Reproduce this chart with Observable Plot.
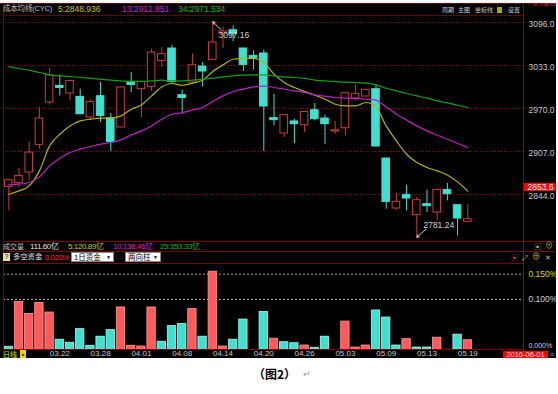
<!DOCTYPE html>
<html><head><meta charset="utf-8">
<script src="https://cdn.jsdelivr.net/npm/d3@7"></script>
<script src="https://cdn.jsdelivr.net/npm/@observablehq/plot@0.6"></script>
<style>
html,body{margin:0;padding:0;background:#fff;}
#wrap{position:relative;width:558px;height:394px;overflow:hidden;background:#fff;font-family:"Liberation Sans","Noto Sans CJK SC",sans-serif;}
#bg{position:absolute;left:0;top:0;width:556px;height:358px;background:#000;}
.abs{position:absolute;white-space:nowrap;line-height:1;font-size:8px;font-family:"Liberation Sans","Noto Sans CJK SC",sans-serif;}
.ln{position:absolute;background:#800000;}
.dd{position:absolute;background:#fff;color:#000;font-size:7.5px;line-height:9px;height:10px;font-family:"Liberation Sans","Noto Sans CJK SC",sans-serif;box-sizing:border-box;padding-left:2px;border:1px solid #888;white-space:nowrap;}
.dd span{position:absolute;right:2px;top:0;font-size:5px;}
</style></head><body><div id="wrap"><div id="bg"></div></div>
<script>
// ---- data ----
const dates = ["03.15","03.16","03.17","03.18","03.21","03.22","03.23","03.24","03.25","03.28","03.29","03.30","03.31","04.01","04.05","04.06","04.07","04.08","04.11","04.12","04.13","04.14","04.15","04.18","04.19","04.20","04.21","04.22","04.25","04.26","04.27","04.28","04.29","05.03","05.04","05.05","05.06","05.09","05.10","05.11","05.12","05.13","05.16","05.17","05.18","05.19"];
const open  = [2855.1,2860.6,2876.2,2916.7,2978.8,3003.1,2992,2987,2956.8,2988,2955.8,2942.2,3009,2998.3,3001.6,3039.7,3057.9,2989.5,3008.1,3031.5,3041.2,3079.9,3084.7,3057.9,3047.1,3050.6,2955.8,2933.4,2951,2945.5,2967.5,2955.3,2936.3,2941.1,2984.7,2987.6,2998.3,2896.7,2823.5,2843.4,2813.7,2829.8,2817.6,2850.7,2828.3,2803.9];
const high  = [2866.5,2882.5,2921,2971.5,3029,3018.8,3011.5,2998.3,2982.2,3008.1,2962.7,3001.6,3022.7,3009,3056.9,3059.4,3062.7,2996.8,3049.6,3037.4,3097.16,3088.7,3091,3057.9,3054.4,3055.4,2991,2960.2,2954.3,2965,2977.3,2960.2,2951,2993.4,3004.6,2998.3,3004.6,2896.7,2845.5,2857.6,2839.6,2850.3,2851.8,2860.1,2828.3,2828.8];
const low   = [2820,2854.2,2864,2910.4,2975.3,2988.5,2981,2961.6,2954.3,2949.5,2907,2942.2,2993.4,2956.8,2994.9,3030.1,3005.6,2961.6,3005.6,3001.6,3041.2,3057.9,3067.6,3024.2,3026.1,2907,2944.5,2927.5,2918.7,2934.8,2951.8,2917.7,2932.3,2929.9,2981.1,2986.1,2914.3,2822.5,2821,2820,2781.24,2817.6,2805.3,2834.6,2783.3,2803.9];
const close = [2865,2871.2,2905.5,2955.3,3018.8,3000.2,3010.4,2961.6,2979.7,2959.2,2921,3000.8,3004.6,3009,3052,3049.6,3009,2985.5,3033.4,3024.2,3066.7,3082.8,3078.9,3033.9,3043.3,2972.9,2952.9,2960.2,2947,2965,2954.3,2947,2938.2,2992.4,2991,2997.3,2914.3,2833.2,2833.2,2838.1,2835.6,2826.9,2850.7,2844.4,2808.8,2807.8];
const cyc5  = [2844.4,2849.3,2856.6,2878.6,2915.2,2932.3,2944.5,2951.8,2954.3,2955.8,2955.8,2959.2,2969,2975.3,2988.5,3001.6,3006.6,3004.1,3007.1,3011.5,3024.2,3033.9,3042.2,3043.3,3043.3,3037.4,3020.3,3008.1,3000.8,2994.9,2989.5,2983.6,2976.3,2973.8,2973.8,2978.8,2972.3,2944.5,2922.5,2903,2890.9,2883.6,2878.6,2872.7,2862.5,2848.9];
const cyc13 = [2858.1,2859.1,2861.6,2869.8,2885.9,2897.2,2905.5,2910.4,2914.3,2917.7,2920.2,2924,2931.3,2937.2,2944.5,2954.3,2961.6,2963.6,2967.9,2971.5,2980.3,2988.5,2994.9,2998.3,3001.6,3002.7,3000.8,2998.3,2995.8,2993.4,2989.9,2988,2986.1,2985.1,2984.7,2983.6,2982.2,2972.3,2961.6,2952.9,2944.5,2937.2,2930.9,2925,2918.7,2912.9];
const cyc34 = [3031.5,3028.6,3026.1,3022.7,3019.2,3017.8,3016.9,3015.4,3014.4,3012.9,3011.5,3010.4,3009.6,3009.6,3010.4,3011.5,3010.4,3010.4,3011.5,3012.9,3014.4,3016.3,3017.8,3018.8,3019.2,3019.2,3017.8,3016.3,3015.4,3014,3011.7,3010.4,3009.6,3008.5,3008.1,3007.1,3004.6,2999.7,2995.8,2992,2988.5,2985.1,2981.1,2978.2,2974.8,2971.5];
const fundsPct  = [0.006,0.095,0.071,0.093,0.074,0.020,0.014,0.041,0.008,0.026,0.039,0.084,0.008,0.0065,0.084,0.016,0.047,0.051,0.081,0.026,0.155,0.0065,0.020,0.060,0,0.075,0.022,0.015,0.013,0.0085,0.004,0.026,0,0.056,0.0045,0.0085,0.078,0.064,0.0085,0.021,0.0045,0.0045,0.024,0,0.030,0.019];
const fundsSide = ["空","多","多","多","多","空","空","空","空","空","空","多","多","多","多","空","空","空","多","空","多","多","空","空","空","空","多","空","空","多","空","空","空","多","多","多","空","空","空","多","空","空","多","多","空","多"];
const priceTicks = [3096, 3033, 2970, 2907, 2844];
const pctTicks = [0.15, 0.10];
const pctZero = 0;
const dateTickIdx = [5, 9, 13, 17, 21, 25, 29, 33, 37, 41, 45];
const extremes = [{i: 20, v: 3097.16, label: "3097.16"}, {i: 40, v: 2781.24, label: "2781.24"}];
const cursorPrice = 2853.6;
const cursorDate = "2016-06-01";

// ---- drawing ----
const RED = "#cc3c3c", CYAN = "#40e0d0", BRED = "#ff5a5a";
const YEL = "#b4b400", MAG = "#c020c0", GRN = "#10a010";
const wrap = document.getElementById("wrap");
const candles = dates.map((d, i) => ({i, d, o: open[i], h: high[i], l: low[i], c: close[i], up: close[i] >= open[i]}));
const mas = [
  {vals: cyc5, color: YEL}, {vals: cyc13, color: MAG}, {vals: cyc34, color: GRN}
];
const xScale = {type: "linear", domain: [0, 45], range: [8.3, 467.3], axis: null};
const svgStyle = {background: "transparent", overflow: "visible", fontFamily: "Liberation Sans, sans-serif", fontSize: "9px"};

const price = Plot.plot({
  width: 558, height: 242, marginTop: 15, marginBottom: 0, marginLeft: 3, marginRight: 35,
  style: svgStyle,
  x: xScale,
  y: {type: "linear", domain: [2844, 3096], range: [194, 22], axis: null},
  color: {type: "identity"},
  marks: [
    Plot.ruleY(priceTicks, {stroke: "#a00000", strokeDasharray: "1,2"}),
    Plot.axisY(priceTicks, {anchor: "right", tickSize: 0, tickPadding: 5, tickFormat: d => d.toFixed(1), color: "#c8c8c8", dy: 2, label: null, fontSize: 8.5}),
    Plot.ruleX(candles, {x: "i", y1: "l", y2: "h", stroke: d => d.up ? RED : CYAN}),
    Plot.rect(candles, {x1: d => d.i - 0.37, x2: d => d.i + 0.37, y1: "o", y2: "c", fill: d => d.up ? "#000" : CYAN, stroke: d => d.up ? RED : CYAN}),
    ...mas.map(m => Plot.line(m.vals, {x: (d, i) => i, y: d => d, stroke: m.color, strokeWidth: 1.2, curve: "monotone-x"})),
    Plot.arrow([extremes[0]], {x1: d => d.i + 0.8, y1: d => d.v - 11.5, x2: "i", y2: "v", stroke: "#c8c8c8", headLength: 4, strokeWidth: 1}),
    Plot.arrow([extremes[1]], {x1: d => d.i + 0.9, y1: d => d.v + 12, x2: "i", y2: "v", stroke: "#c8c8c8", headLength: 4, strokeWidth: 1}),
    Plot.text([extremes[0]], {x: "i", y: "v", text: "label", dx: 21, dy: 14, fill: "#d0d0d0", fontSize: 8.5}),
    Plot.text([extremes[1]], {x: "i", y: "v", text: "label", dx: 22, dy: -12, fill: "#d0d0d0", fontSize: 8.5})
  ]
});

const funds = dates.map((d, i) => ({i, v: fundsPct[i], side: fundsSide[i]})).filter(d => d.v > 0);
const lower = Plot.plot({
  width: 558, height: 358, marginTop: 263, marginBottom: 8.7, marginLeft: 3, marginRight: 35,
  style: svgStyle,
  x: xScale,
  y: {type: "linear", domain: [0, 0.15], range: [349.3, 273.7], axis: null},
  color: {type: "identity"},
  marks: [
    Plot.ruleY([0.15], {stroke: YEL, strokeDasharray: "2,2"}),
    Plot.ruleY([0.10], {stroke: "#b8b8b8", strokeDasharray: "2,2"}),
    Plot.rect(funds, {x1: d => d.i - 0.41, x2: d => d.i + 0.41, y1: 0, y2: "v",
      fill: d => d.side === "多" ? BRED : CYAN, stroke: d => d.side === "多" ? "#ff9a9a" : "#a0fff2", strokeWidth: 0.8}),
    Plot.text(pctTicks, {y: d => d, text: d => d.toFixed(3) + "%", frameAnchor: "right", dx: 5, textAnchor: "start",
      fill: d => d === 0.15 ? "#d8d800" : "#d0d0d0", fontSize: 8.5}),
    Plot.text([pctZero], {y: d => d, text: d => d.toFixed(3) + "%", frameAnchor: "right", dx: 5, dy: -4, textAnchor: "start",
      fill: "#d0d0d0", fontSize: 7}),
    Plot.axisX(dateTickIdx, {anchor: "bottom", tickSize: 0, tickPadding: 1, tickFormat: i => dates[i], color: "#c8c8c8", label: null, fontSize: 8})
  ]
});

for (const s of [price, lower]) {
  s.style.position = "absolute"; s.style.left = "0px"; s.style.top = "0px";
  wrap.appendChild(s);
}

function el(cls, left, top, html, css) {
  const e = document.createElement("div");
  e.className = cls; e.style.left = left + "px"; e.style.top = top + "px";
  e.innerHTML = html;
  if (css) Object.assign(e.style, css);
  wrap.appendChild(e); return e;
}
function line(l, t, w, h, c) { el("ln", l, t, "", {width: w + "px", height: h + "px", background: c || "#800000"}); }

// frame lines
line(0, 3, 556, 1);
line(3, 3, 1, 355);
line(523, 3, 1, 355, "#a00000");
line(3, 15, 520, 1, "#600000");
line(3, 241, 553, 1);
line(3, 251, 553, 1);
line(3, 263, 520, 1);
line(3, 349, 520, 1);

// title row
const T = {letterSpacing: "-0.2px"};
el("abs", 3, 5, "成本均线(CYC)", {color: "#c0c0c0", fontSize: "7.5px", ...T});
el("abs", 58, 5, "5:2848.936", {color: "#c8c800", fontSize: "8.5px"});
el("abs", 122, 5, "13:2912.851", {color: "#d020d0", fontSize: "8.5px"});
el("abs", 178, 5, "34:2971.534", {color: "#00c000", fontSize: "8.5px"});
el("abs", 442, 6.5, "周期", {color: "#d0d0d0", fontSize: "6px"});
el("abs", 458, 6.5, "主图", {color: "#d0d0d0", fontSize: "6px"});
el("abs", 475, 6.5, "坐标线", {color: "#d0d0d0", fontSize: "6px"});
el("abs", 497, 7, "", {width: "5px", height: "6px", background: "#a8a800"});
el("abs", 508, 6.5, "设置", {color: "#d0d0d0", fontSize: "6px"});
el("abs", 533, -0.5, "0.78%", {color: "#ff2020", fontSize: "8px"});

// cursor price box
const yP = price.scale("y").apply(cursorPrice);
el("abs", 524, yP - 4.5, cursorPrice.toFixed(1), {width: "33px", height: "8.5px", background: "#ff0000", color: "#fff", textAlign: "center", lineHeight: "8.5px", fontSize: "8.5px"});

// volume row
const V = {letterSpacing: "-0.4px", fontSize: "8px"};
el("abs", 3, 242.5, "成交量", {color: "#c0c0c0", fontSize: "7px"});
el("abs", 30, 242.5, "111.60亿", {color: "#e0e0e0", ...V});
el("abs", 68, 242.5, "5:120.89亿", {color: "#c8c800", ...V});
el("abs", 113, 242.5, "10:138.46亿", {color: "#d020d0", ...V});
el("abs", 160, 242.5, "25:153.33亿", {color: "#00c000", ...V});
el("abs", 534, 242.5, "▣", {color: "#a8a840", fontSize: "7px"});
el("abs", 545, 242, "⊕", {color: "#a8a840", fontSize: "8px"});

// funds row
el("abs", 3, 253, "?", {width: "7px", height: "8px", background: "#e8e0a0", color: "#000", fontSize: "7px", lineHeight: "8px", textAlign: "center"});
el("abs", 13, 253, "多空资金", {color: "#e0e0e0", fontSize: "7.3px"});
el("abs", 45, 253.5, "0.020%", {color: "#ff3030", fontSize: "7.5px", letterSpacing: "-0.2px"});
el("dd", 71, 251.5, "1日资金<span>▼</span>", {width: "43px"});
el("dd", 125, 251.5, "两向柱<span>▼</span>", {width: "36px"});
el("abs", 511, 253.5, "▣", {color: "#c04040", fontSize: "7px"});
el("abs", 522, 253.5, "⤢", {color: "#c8c840", fontSize: "7px"});
el("abs", 532, 253, "⊕", {color: "#c8c840", fontSize: "8px"});
el("abs", 545, 253.5, "✕", {color: "#c8c840", fontSize: "7px"});

// bottom row
el("abs", 3, 350.5, "日线", {color: "#e0e000", fontSize: "7px"});
el("abs", 20, 350, "▲", {width: "6px", height: "8px", background: "#e0e000", color: "#d00000", fontSize: "5px", lineHeight: "8px", textAlign: "center"});
el("abs", 503, 350.5, cursorDate, {width: "45px", height: "7.5px", background: "#ff0000", color: "#ffe0e0", fontSize: "7.5px", lineHeight: "7.5px", textAlign: "center"});
el("abs", 550, 350.5, "≡", {color: "#a0a0a0", fontSize: "7px"});

// white strips (outside chart)
el("abs", 0, 0, "", {width: "558px", height: "3px", background: "#fff"});
el("abs", 0, 358, "", {width: "558px", height: "36px", background: "#fff"});
el("abs", 556, 0, "", {width: "2px", height: "358px", background: "#fff"});

// caption
el("abs", 253, 367.5, "（图2）", {color: "#000", fontSize: "12px", fontWeight: "bold", fontFamily: "Noto Sans CJK SC, sans-serif"});
el("abs", 303, 369.5, "↵", {color: "#999", fontSize: "9px"});
</script>
</body></html>
